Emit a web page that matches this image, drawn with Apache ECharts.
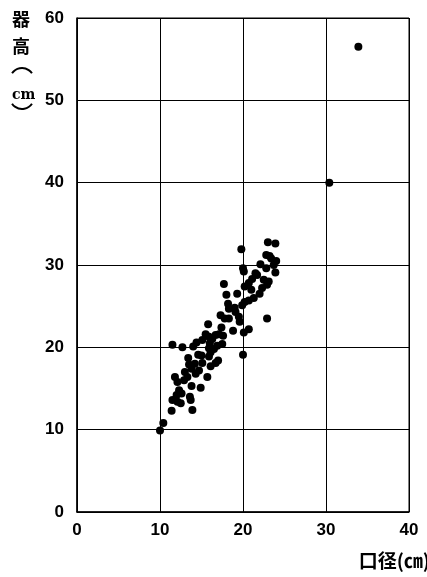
<!DOCTYPE html>
<html>
<head>
<meta charset="utf-8">
<script src="https://cdn.jsdelivr.net/npm/echarts@6/dist/echarts.min.js"></script>
<style>html,body{margin:0;padding:0;background:#fff}#c{width:427px;height:577px}</style>
</head>
<body>
<div id="c"></div>
<script>
// 口径 (cm)
var diameter = [
  23.0, 23.9, 19.8, 22.8, 23.2, 22.1, 23.7, 20.0, 20.1, 22.8,
  23.9, 21.7, 21.1, 17.7, 20.2, 20.7, 22.5, 23.1, 22.9, 18.0,
  22.0, 21.3, 20.7, 20.2, 19.9, 18.2, 18.3, 19.1, 17.3, 17.8,
  18.3, 19.5, 19.6, 22.9, 15.8, 17.4, 20.7, 20.1, 15.5, 15.9,
  16.7, 17.1, 17.6, 14.4, 15.1, 16.3, 16.0, 17.5, 11.5, 12.7,
  14.0, 15.9, 16.1, 20.0, 14.6, 13.4, 15.9, 17.0, 16.7, 15.1,
  13.5, 13.8, 16.1, 14.7, 11.8, 13.3, 15.7, 12.1, 13.8, 14.9,
  12.3, 12.6, 13.6, 13.7, 11.5, 12.1, 12.5, 13.9, 11.4, 10.4,
  10.0, 30.4, 33.9,
  23.4, 21.0, 19.0, 18.8, 16.5, 15.0, 14.2, 13.0, 12.0, 21.5,
  22.3, 24.0, 19.3, 16.9, 14.3, 12.9
];
// 器高 (cm)
var height = [
  32.75, 32.6, 31.9, 31.2, 31.1, 30.1, 30.0, 29.6, 29.2, 29.6,
  29.1, 28.8, 28.3, 27.7, 27.4, 27.8, 28.2, 28.0, 27.6, 26.4,
  26.5, 26.0, 25.7, 25.5, 25.1, 25.3, 24.7, 24.3, 23.9, 23.5,
  23.5, 23.7, 23.1, 23.5, 22.8, 22.4, 22.2, 21.8, 21.6, 21.3,
  21.5, 21.6, 21.4, 20.6, 20.9, 21.0, 20.5, 20.4, 20.3, 20.0,
  20.1, 19.9, 19.4, 19.1, 19.1, 18.7, 18.9, 18.4, 18.1, 18.1,
  17.9, 17.4, 17.7, 17.2, 16.4, 16.4, 16.4, 15.8, 15.3, 15.1,
  14.8, 14.4, 14.0, 13.6, 13.6, 13.4, 13.2, 12.4, 12.3, 10.8,
  9.9, 40.0, 56.5,
  30.8, 27.0, 24.8, 22.0, 19.8, 19.0, 18.0, 17.0, 14.2, 29.0,
  27.2, 30.5, 26.5, 20.2, 16.8, 16.0
];
var xTicks = [0, 10, 20, 30, 40];
var yTicks = [0, 10, 20, 30, 40, 50, 60];

var points = diameter.map(function (d, i) { return [d, height[i]]; });
var labelFont = 'Liberation Sans, Arial, sans-serif';
var cjk = '"Noto Sans CJK JP"';
var deg = Math.PI / 180;
var chart = echarts.init(document.getElementById('c'));
chart.setOption({
  animation: false,
  backgroundColor: '#fff',
  grid: { left: 77, right: 18, top: 18, bottom: 65, show: true, borderColor: '#000', borderWidth: 1 },
  xAxis: {
    type: 'value', min: xTicks[0], max: xTicks[xTicks.length - 1], interval: 10,
    axisLine: { show: true, onZero: false, lineStyle: { color: '#000', width: 1.5 } },
    axisTick: { show: false },
    splitLine: { show: true, lineStyle: { color: '#000', width: 1 } },
    axisLabel: { color: '#000', fontSize: 17, fontWeight: 'bold', fontFamily: labelFont, margin: 10 }
  },
  yAxis: {
    type: 'value', min: yTicks[0], max: yTicks[yTicks.length - 1], interval: 10,
    axisLine: { show: true, onZero: false, lineStyle: { color: '#000', width: 1.5 } },
    axisTick: { show: false },
    splitLine: { show: true, lineStyle: { color: '#000', width: 1 } },
    axisLabel: { color: '#000', fontSize: 17, fontWeight: 'bold', fontFamily: labelFont, margin: 13 }
  },
  graphic: [
    { type: 'text', left: 12, top: 10,
      style: { text: '器', fill: '#000', font: 'bold 18px ' + cjk } },
    { type: 'text', left: 12, top: 37,
      style: { text: '高', fill: '#000', font: 'bold 18px ' + cjk } },
    { type: 'arc', shape: { cx: 22, cy: 80, r: 12, startAngle: 214 * deg, endAngle: 326 * deg },
      style: { stroke: '#000', lineWidth: 2, fill: null } },
    { type: 'text', left: 12, top: 88,
      style: { text: 'cm', fill: '#000', font: 'bold 14px "DejaVu Serif"', textDecoration: 'underline' } },
    { type: 'arc', shape: { cx: 22, cy: 97, r: 12, startAngle: 34 * deg, endAngle: 146 * deg },
      style: { stroke: '#000', lineWidth: 2, fill: null } },
    { type: 'text', right: -3, top: 551,
      style: { text: '口径(㎝)', fill: '#000', font: 'bold 19px ' + cjk } }
  ],
  series: [{
    type: 'scatter',
    data: points,
    symbol: 'circle',
    symbolSize: 8,
    itemStyle: { color: '#000', opacity: 1 }
  }]
});
</script>
</body>
</html>
